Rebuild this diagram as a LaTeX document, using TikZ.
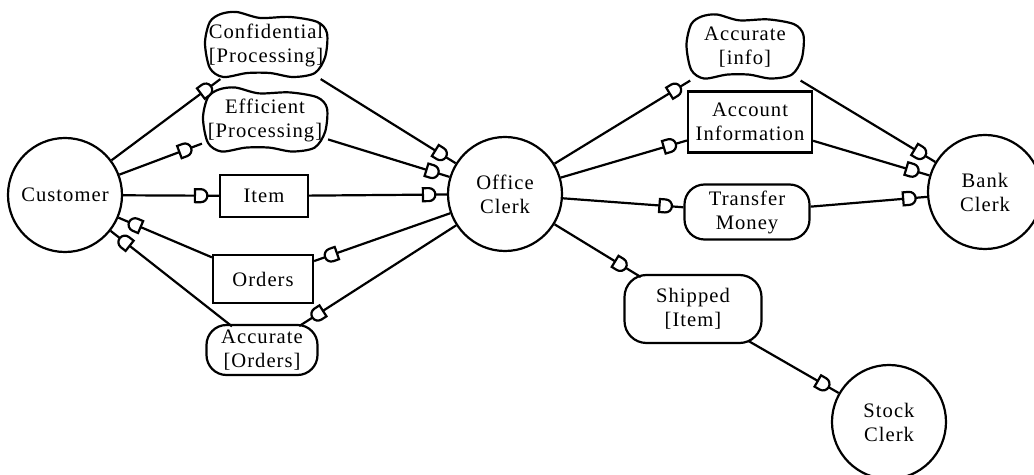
\documentclass[tikz,border=0pt]{standalone}
\usepackage{fontspec}
\setmainfont[LetterSpace=5]{Liberation Serif}
\usetikzlibrary{decorations.markings}

\tikzset{
  lbl/.style={line width=1.1pt, font=\fontsize{10.3}{12}\selectfont, align=center, inner sep=0pt},
  actor/.style={lbl, draw, circle, minimum size=57pt},
  resource/.style={lbl, draw, rectangle},
  task/.style={lbl, draw, rectangle, rounded corners=10pt},
  softgoal/.style={lbl, rectangle},
  dep/.style={line width=1.1pt, postaction={decorate},
    decoration={markings, mark=at position -6.5pt with {
      \draw[line width=1.1pt, fill=white]
        (-5.5pt,-3.25pt) -- (-2.5pt,-3.25pt)
        arc[start angle=-90, end angle=90, radius=3.25pt]
        -- (-5.5pt,3.25pt) -- cycle;}}}
}

% wavy outline of a softgoal, scaled to the node's half width / half height
\newcommand{\softoutline}[3]{%
  \begin{scope}[shift={(#1.center)}, xscale=#2, yscale=#3]
    \draw[line width=1.1pt] plot[smooth cycle] coordinates {
      (-0.48,-1) (-0.74,-0.94) (-0.92,-0.70) (-1,-0.06) (-0.92,0.70) (-0.70,0.97)
      (-0.31,0.85) (0.07,0.85) (0.44,0.97) (0.80,0.85) (0.97,0.36)
      (1,-0.36) (0.84,-0.70) (0.39,-0.85) (-0.10,-0.82)};
  \end{scope}}

\begin{document}
\begin{tikzpicture}[x=0.5pt, y=-0.5pt]
  \useasboundingbox (0,0) rectangle (1034,475);
  \clip (0,0) rectangle (1034,475);

  % actors
  \node[actor] (cust)   at (65,195)  {Customer};
  \node[actor] (office) at (505,194) {Office\\Clerk};
  \node[actor] (bank)   at (985,192) {Bank\\Clerk};
  \node[actor] (stock)  at (889,422) {Stock\\Clerk};

  % softgoals
  \node[softgoal, minimum width=61pt, minimum height=33pt]   (conf) at (266,45)  {Confidential\\{}[Processing]};
  \node[softgoal, minimum width=62pt, minimum height=32.5pt] (eff)  at (265,120) {Efficient\\{}[Processing]};
  \node[softgoal, minimum width=58.5pt, minimum height=32.5pt] (accinfo) at (745,47) {Accurate\\{}[info]};
  \softoutline{conf}{61}{33}
  \softoutline{eff}{62}{32.5}
  \softoutline{accinfo}{58.5}{32.5}

  % resources
  \node[resource, minimum width=44pt, minimum height=21pt]   (item)   at (264,196) {Item};
  \node[resource, minimum width=50pt, minimum height=24pt]   (orders) at (263,279) {Orders};
  \node[resource, minimum width=62pt, minimum height=30.5pt] (acct)   at (750,122) {Account\\Information};

  % tasks and goals
  \node[task, minimum width=55.5pt, minimum height=25pt]   (accord)   at (262,350) {Accurate\\{}[Orders]};
  \node[task, minimum width=62.5pt, minimum height=27.5pt] (transfer) at (747,212) {Transfer\\Money};
  \node[task, minimum width=68.5pt, minimum height=34pt, rounded corners=11pt] (shipped) at (693,309) {Shipped\\{}[Item]};

  % dependencies: depender -> dependum -> dependee
  \draw[dep] (cust) -- (conf);
  \draw[dep] (conf) -- (office);
  \draw[dep] (cust) -- (eff);
  \draw[dep] (eff) -- (office);
  \draw[dep] (cust) -- (item);
  \draw[dep] (item) -- (office);
  \draw[dep] (office) -- (orders);
  \draw[dep] (orders) -- (cust);
  \draw[dep, shorten >=-2pt] (office) -- (accord);
  \draw[dep, shorten <=-2pt] (accord) -- (cust);

  \draw[dep] (office) -- (accinfo);
  \draw[dep] (accinfo) -- (bank);
  \draw[dep] (office) -- (acct);
  \draw[dep] (acct) -- (bank);
  \draw[dep] (office) -- (transfer);
  \draw[dep] (transfer) -- (bank);
  \draw[dep, shorten >=-3pt] (office) -- (shipped);
  \draw[dep, shorten <=-3pt] (shipped) -- (stock);
\end{tikzpicture}
\end{document}
